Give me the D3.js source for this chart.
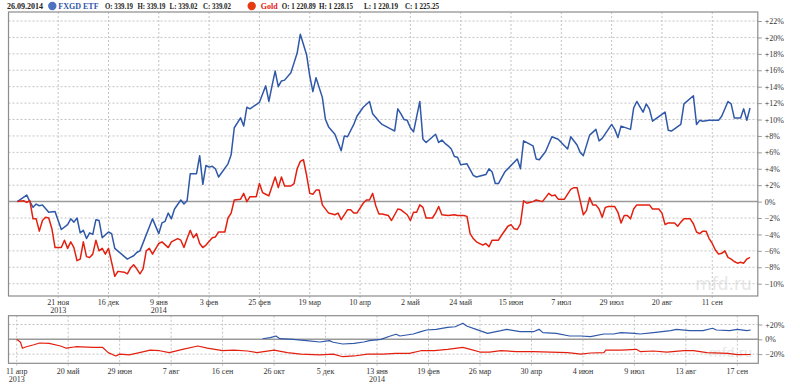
<!DOCTYPE html>
<html>
<head>
<meta charset="utf-8">
<script src="https://cdn.jsdelivr.net/npm/d3@7"></script>
<style>
  body { margin: 0; background: #fff; }
  svg { display: block; }
</style>
</head>
<body>
<div id="chart-mount"></div>
<script>
// Header quote line
const quoteDate = '26.09.2014';
const fxgdName = 'FXGD ETF';
const fxgdQuote = ['O: 339.19', 'H: 339.19', 'L: 339.02', 'C: 339.02'];
const goldName = 'Gold';
const goldQuote = ['O: 1 220.89', 'H: 1 228.15', 'L: 1 220.19', 'C: 1 225.25'];

// Main panel: trading-day index (0 = 4 ноя 2013) and % change
const mainTickLabels = ['21 ноя', '16 дек', '9 янв', '3 фев', '25 фев', '19 мар', '10 апр',
  '2 май', '24 май', '15 июн', '7 июл', '29 июл', '20 авг', '11 сен'];
const mainTickYears = { 0: '2013', 2: '2014' };
const mainPctTicks = [-10, -8, -6, -4, -2, 0, 2, 4, 6, 8, 10, 12, 14, 16, 18, 20, 22];

const fxgdMain = [
  [0, 0], [3, 0.8], [4, 0], [5, -0.7], [6, -0.3], [7, -0.5], [8, -0.4], [10, -1.3], [12, -1.2],
  [14, -3.4], [16, -2.8], [17, -2.1], [18, -2.5], [19, -2.0], [20, -3.8], [21, -3.5], [22, -4.5],
  [23, -3.8], [24, -4.0], [25, -2.2], [26, -2.3], [27, -4.4], [29, -3.7], [30, -3.9], [31, -5.7],
  [35, -7.0], [36, -6.8], [37, -6.6], [38, -6.2], [39, -6.0], [43, -2.1], [45, -3.9], [46, -2.6],
  [47, -2.4], [48, -1.4], [49, -2.1], [50, -0.9], [52, 0.2], [53, -0.3], [54, 0.1], [55, 3.4],
  [57, 3.4], [58, 5.6], [59, 2.1], [60, 4.4], [61, 4.2], [62, 4.3], [63, 4.0], [64, 3.0],
  [67, 4.6], [68, 5.7], [69, 9.0], [71, 10.2], [72, 9.2], [73, 11.5], [74, 11.3], [77, 12.1],
  [78, 13.1], [79, 14.1], [80, 12.2], [81, 14.1], [82, 15.9], [83, 14.0], [84, 14.7], [85, 14.8],
  [87, 15.7], [88, 16.9], [89, 18.1], [90, 20.4], [92, 17.9], [93, 15.3], [94, 13.4], [95, 15.1],
  [97, 12.7], [98, 10.0], [99, 9.1], [101, 8.2], [103, 6.2], [104, 8.0], [105, 7.9], [107, 9.4],
  [108, 10.4], [110, 11.5], [112, 12.2], [113, 10.7], [115, 9.8], [116, 9.4], [119, 8.8],
  [120, 8.6], [121, 11.3], [122, 10.7], [123, 10.0], [124, 9.9], [125, 9.0], [126, 8.5],
  [128, 12.2], [129, 7.6], [130, 7.2], [133, 8.2], [134, 7.2], [135, 7.5], [136, 7.1], [137, 6.8],
  [138, 6.4], [139, 5.5], [140, 5.4], [141, 4.5], [143, 4.6], [145, 3.2], [146, 3.0], [149, 3.3],
  [150, 4.0], [151, 3.6], [152, 2.2], [153, 2.2], [155, 3.6], [159, 5.2], [160, 4.0], [161, 7.4],
  [164, 6.8], [165, 5.2], [166, 5.1], [168, 6.1], [170, 7.9], [172, 7.6], [174, 6.8], [175, 6.4],
  [176, 7.9], [178, 6.9], [179, 6.0], [180, 5.6], [182, 8.1], [184, 8.8], [185, 7.4], [186, 7.7],
  [189, 9.4], [190, 8.8], [191, 7.8], [192, 9.2], [195, 8.8], [196, 11.4], [197, 12.2],
  [199, 10.9], [200, 11.9], [201, 11.3], [202, 9.8], [206, 10.9], [207, 8.7], [208, 8.6],
  [211, 9.4], [212, 11.9], [215, 12.9], [216, 9.4], [217, 9.9], [218, 9.8], [220, 9.9],
  [223, 9.9], [224, 10.4], [226, 12.2], [227, 11.9], [228, 10.2], [230, 10.2], [231, 11.3],
  [232, 9.9], [233, 11.4]
];

const goldMain = [
  [0, 0], [2, 0.1], [3, -0.1], [4, 0.1], [5, -2.1], [6, -2.1], [7, -3.6], [8, -2.3], [9, -1.9],
  [10, -2.0], [11, -3.3], [12, -5.6], [14, -5.6], [15, -4.7], [16, -5.7], [17, -4.9], [18, -5.6],
  [19, -7.2], [20, -7.0], [21, -4.9], [22, -6.7], [23, -6.8], [24, -6.4], [25, -4.7], [26, -6.0],
  [27, -5.7], [28, -6.4], [29, -5.7], [31, -9.1], [32, -8.5], [34, -8.6], [35, -8.8], [36, -8.1],
  [37, -7.7], [38, -8.2], [39, -8.8], [40, -8.2], [41, -6.0], [42, -5.7], [43, -6.4], [45, -5.1],
  [46, -4.9], [48, -5.6], [49, -4.9], [51, -4.5], [52, -4.7], [53, -5.6], [54, -4.5], [55, -3.5],
  [56, -4.4], [57, -3.9], [58, -5.1], [59, -5.6], [60, -5.3], [62, -4.4], [63, -4.3], [64, -3.7],
  [66, -3.7], [67, -2.0], [68, -1.4], [69, 0.2], [71, 0.3], [72, 1.0], [73, 0], [74, 0.6],
  [76, 0.6], [77, 2.2], [78, 1.1], [79, 0.9], [80, 0.7], [82, 3.0], [83, 1.7], [84, 3.0],
  [85, 1.9], [87, 1.9], [88, 2.2], [89, 4.0], [90, 4.9], [91, 5.1], [92, 3.2], [93, 1.0],
  [94, 0.9], [95, 1.4], [96, 1.4], [97, -0.4], [99, -1.4], [101, -1.6], [102, -1.4], [103, -2.2],
  [105, -1.0], [106, -1.0], [107, -1.4], [108, -1.4], [110, -0.2], [111, 0.2], [112, 0.2],
  [113, 1.0], [114, -0.5], [115, -1.5], [116, -1.5], [118, -1.7], [119, -2.3], [121, -0.9],
  [122, -1.0], [124, -1.6], [125, -2.3], [126, -1.3], [127, -1.3], [128, -0.4], [129, -0.7],
  [130, -2.0], [132, -2.0], [133, -1.4], [134, -0.6], [135, -1.6], [137, -1.7], [139, -1.6],
  [140, -1.7], [142, -1.7], [143, -1.8], [144, -3.9], [145, -4.5], [146, -4.9], [148, -5.3],
  [149, -5.1], [150, -5.5], [151, -4.7], [153, -4.7], [154, -4.1], [156, -3.0], [157, -2.8],
  [158, -3.3], [159, -3.4], [160, -2.7], [161, 0.1], [162, -0.2], [164, 0], [165, 0.2], [167, 0],
  [169, 1.0], [170, 0.7], [171, 0.8], [172, 0.3], [174, 0.3], [175, 0.9], [176, 1.5], [177, 1.7],
  [178, 1.7], [179, 0.1], [180, -1.6], [181, -1.1], [182, 0.5], [183, -0.4], [184, -0.4],
  [185, -0.9], [186, -1.9], [187, -0.7], [188, -0.6], [190, -0.6], [191, -1.3], [192, -2.6],
  [193, -1.7], [194, -1.7], [195, -2.1], [196, -0.9], [197, -0.4], [198, -0.4], [201, -0.4],
  [202, -0.9], [204, -0.9], [205, -1.4], [206, -2.8], [207, -2.6], [209, -2.6], [210, -3.0],
  [211, -2.5], [212, -2.1], [214, -2.1], [215, -2.7], [216, -3.7], [217, -3.9], [218, -3.6],
  [219, -3.6], [220, -4.5], [221, -5.1], [222, -5.9], [223, -6.4], [224, -6.3], [225, -6.0],
  [226, -6.8], [227, -7.0], [228, -7.3], [229, -7.5], [230, -7.4], [231, -7.5], [232, -7.0],
  [233, -6.8]
];

// Navigator panel: trading-day index (0 = 11 апр 2013) and % change
const navTickLabels = ['11 апр', '20 май', '29 июн', '7 авг', '16 сен', '26 окт', '5 дек', '13 янв',
  '19 фев', '26 мар', '30 апр', '4 июн', '9 июл', '13 авг', '17 сен'];
const navTickYears = { 0: '2013', 7: '2014' };
const navPctTicks = [-20, 0, 20];

const fxgdNav = [
  [129, 0.8], [133, 2.2], [136, 4.5], [138, 0.8], [145, 0], [152, -1.8], [159, -3.6], [164, -1.8],
  [166, -4], [171, -6.3], [177, -5.4], [182, -3.6], [185, -1.8], [191, 0], [196, 4.5], [199, 6.8],
  [201, 4.5], [208, 7.2], [212, 10.3], [215, 12.6], [220, 13.5], [226, 16.2], [230, 17],
  [234, 21.6], [236, 18], [241, 13.5], [247, 8.1], [254, 11.7], [257, 13.5], [264, 10.3],
  [271, 10.3], [274, 13.5], [276, 9], [283, 8.1], [290, 4.5], [296, 4.5], [301, 3.6], [308, 7.2],
  [313, 7.2], [317, 9], [324, 8.1], [327, 7.2], [334, 9], [343, 11.7], [346, 13.5], [353, 11.7],
  [360, 11.7], [365, 14.9], [367, 12.6], [374, 11.7], [378, 13.5], [383, 11.7], [385, 12.6]
];

const goldNav = [
  [0, 0], [2, -4], [3, -12], [5, -10], [9, -7.3], [12, -5], [17, -5.4], [23, -9], [26, -12],
  [31, -10], [40, -10.8], [45, -10.8], [48, -18], [52, -22.5], [54, -20], [59, -21], [65, -17.6],
  [70, -14.5], [75, -15.4], [80, -18], [87, -13.5], [95, -9], [100, -12], [108, -15.4],
  [114, -14.5], [121, -15.8], [126, -18], [135, -14.5], [142, -18], [149, -20], [159, -21],
  [166, -20], [171, -23.5], [177, -22.5], [184, -20], [192, -20], [199, -19], [206, -19],
  [212, -15.4], [219, -15.4], [226, -13.5], [234, -10.8], [238, -13.5], [243, -17.2], [248, -17.2],
  [254, -15.4], [262, -16.5], [271, -16.5], [280, -17.2], [289, -18], [296, -20], [301, -18.5],
  [308, -18], [309, -14.5], [317, -14.5], [325, -13.5], [327, -16.5], [334, -15.8], [341, -17.2],
  [350, -15.4], [355, -15.4], [362, -18], [373, -19], [378, -20.8], [385, -20.5]
];

const blue = '#2f58a8';
const red = '#e3200f';
const gridColor = '#c4c4c4';
const frameColor = '#8c8c8c';
const textColor = '#333';
const serif = '"Liberation Serif", "DejaVu Serif", serif';

const width = 800;
const height = 386;
const main = { left: 8.5, right: 757.8, top: 12, bottom: 296 };
const nav = { left: 8.5, right: 758.3, top: 315.7, bottom: 363.3 };

const fmtPct = v => (v > 0 ? '+' + v : v < 0 ? '\u2212' + Math.abs(v) : '0') + '%';

const svg = d3.select('#chart-mount')
  .append('svg')
  .attr('width', width)
  .attr('height', height)
  .style('font-family', serif);

// Header: bold, quotes squeezed a little so each fits its slot
const header = svg.append('g')
  .attr('font-size', 7.5)
  .attr('font-weight', 'bold')
  .attr('fill', '#222');
const headText = (xPos, txt, len, color, size) => header.append('text')
  .attr('x', xPos).attr('y', 9)
  .attr('fill', color || null)
  .attr('font-size', size || null)
  .attr('textLength', len || null)
  .attr('lengthAdjust', 'spacingAndGlyphs')
  .text(txt);
headText(7, quoteDate, null, null, 8);
headText(58.3, fxgdName, null, blue, 8);
[105, 137.5, 169.5, 203].forEach((xp, i) => headText(xp, fxgdQuote[i], 28));
headText(260.7, goldName, null, red, 8);
[281.7, 319, 364, 405].forEach((xp, i) => headText(xp, goldQuote[i], 34));

svg.append('circle').attr('cx', 52.3).attr('cy', 6).attr('r', 4.2).attr('fill', '#4d72c2');
svg.append('circle').attr('cx', 251.7).attr('cy', 6).attr('r', 4.2).attr('fill', '#e63b12');

function drawPanel(box, x, y, tickDays, tickLabels, tickYears, pctTicks, series, lineWidth, labelY, markSize) {
  const g = svg.append('g');

  // watermark
  g.append('text')
    .attr('x', box.right - 6)
    .attr('y', box.bottom - 6)
    .attr('text-anchor', 'end')
    .attr('font-family', '"DejaVu Sans", sans-serif')
    .attr('font-size', markSize)
    .attr('fill', '#e6e6e6')
    .text('mfd.ru');

  // horizontal grid
  g.selectAll('line.hgrid')
    .data(pctTicks.filter(v => v !== 0))
    .enter()
    .append('line')
    .attr('x1', box.left).attr('x2', box.right)
    .attr('y1', d => y(d)).attr('y2', d => y(d))
    .attr('stroke', gridColor)
    .attr('stroke-dasharray', '2,2');

  // vertical grid
  g.selectAll('line.vgrid')
    .data(tickDays)
    .enter()
    .append('line')
    .attr('x1', d => x(d)).attr('x2', d => x(d))
    .attr('y1', box.top).attr('y2', box.bottom + 4)
    .attr('stroke', gridColor)
    .attr('stroke-dasharray', '2,2');

  // zero line
  g.append('line')
    .attr('x1', box.left).attr('x2', box.right)
    .attr('y1', y(0)).attr('y2', y(0))
    .attr('stroke', '#9a9a9a')
    .attr('stroke-width', 1.5);

  // right axis
  const ax = g.append('g').attr('transform', `translate(${box.right},0)`)
    .call(d3.axisRight(y).tickValues(pctTicks).tickFormat(fmtPct).tickSize(4).tickPadding(3));
  ax.select('.domain').remove();
  ax.selectAll('.tick line').attr('stroke', '#999');
  ax.selectAll('.tick text').attr('fill', textColor).attr('font-size', 8).attr('font-family', serif);

  // bottom labels
  const lab = g.selectAll('text.xlab')
    .data(tickDays)
    .enter()
    .append('text')
    .attr('x', d => x(d))
    .attr('y', labelY)
    .attr('text-anchor', 'middle')
    .attr('font-size', 8)
    .attr('fill', textColor);
  lab.append('tspan').text((d, i) => tickLabels[i]);
  lab.filter((d, i) => tickYears[i])
    .append('tspan')
    .attr('x', d => x(d))
    .attr('dy', 8)
    .text(d => tickYears[tickDays.indexOf(d)]);

  // lines
  const line = d3.line().x(d => x(d[0])).y(d => y(d[1]));
  series.forEach(s => {
    g.append('path')
      .datum(s.data)
      .attr('d', line)
      .attr('fill', 'none')
      .attr('stroke', s.color)
      .attr('stroke-width', lineWidth)
      .attr('stroke-linejoin', 'round');
  });

  // frame
  g.append('rect')
    .attr('x', box.left).attr('y', box.top)
    .attr('width', box.right - box.left).attr('height', box.bottom - box.top)
    .attr('fill', 'none')
    .attr('stroke', frameColor)
    .attr('stroke-width', 1.2);
}

// Main panel
const x = d3.scaleLinear().domain([0, 233]).range([17.3, 750]);
const y = d3.scaleLinear().domain([-11.5, 23.1]).range([main.bottom, main.top]);
const mainTickDays = mainTickLabels.map((_, i) => 13 + 16 * i);
drawPanel(main, x, y, mainTickDays, mainTickLabels, mainTickYears, mainPctTicks,
  [{ data: fxgdMain, color: blue }, { data: goldMain, color: red }], 1.5, 305, 17);

// Navigator panel
const xn = d3.scaleLinear().domain([0, 385]).range([16.7, 750.7]);
const yn = d3.scaleLinear().domain([-32.4, 31.9]).range([nav.bottom, nav.top]);
const navTickDays = navTickLabels.map((_, i) => 27 * i);
drawPanel(nav, xn, yn, navTickDays, navTickLabels, navTickYears, navPctTicks,
  [{ data: fxgdNav, color: blue }, { data: goldNav, color: red }], 1.2, 373.5, 13);
</script>
</body>
</html>
